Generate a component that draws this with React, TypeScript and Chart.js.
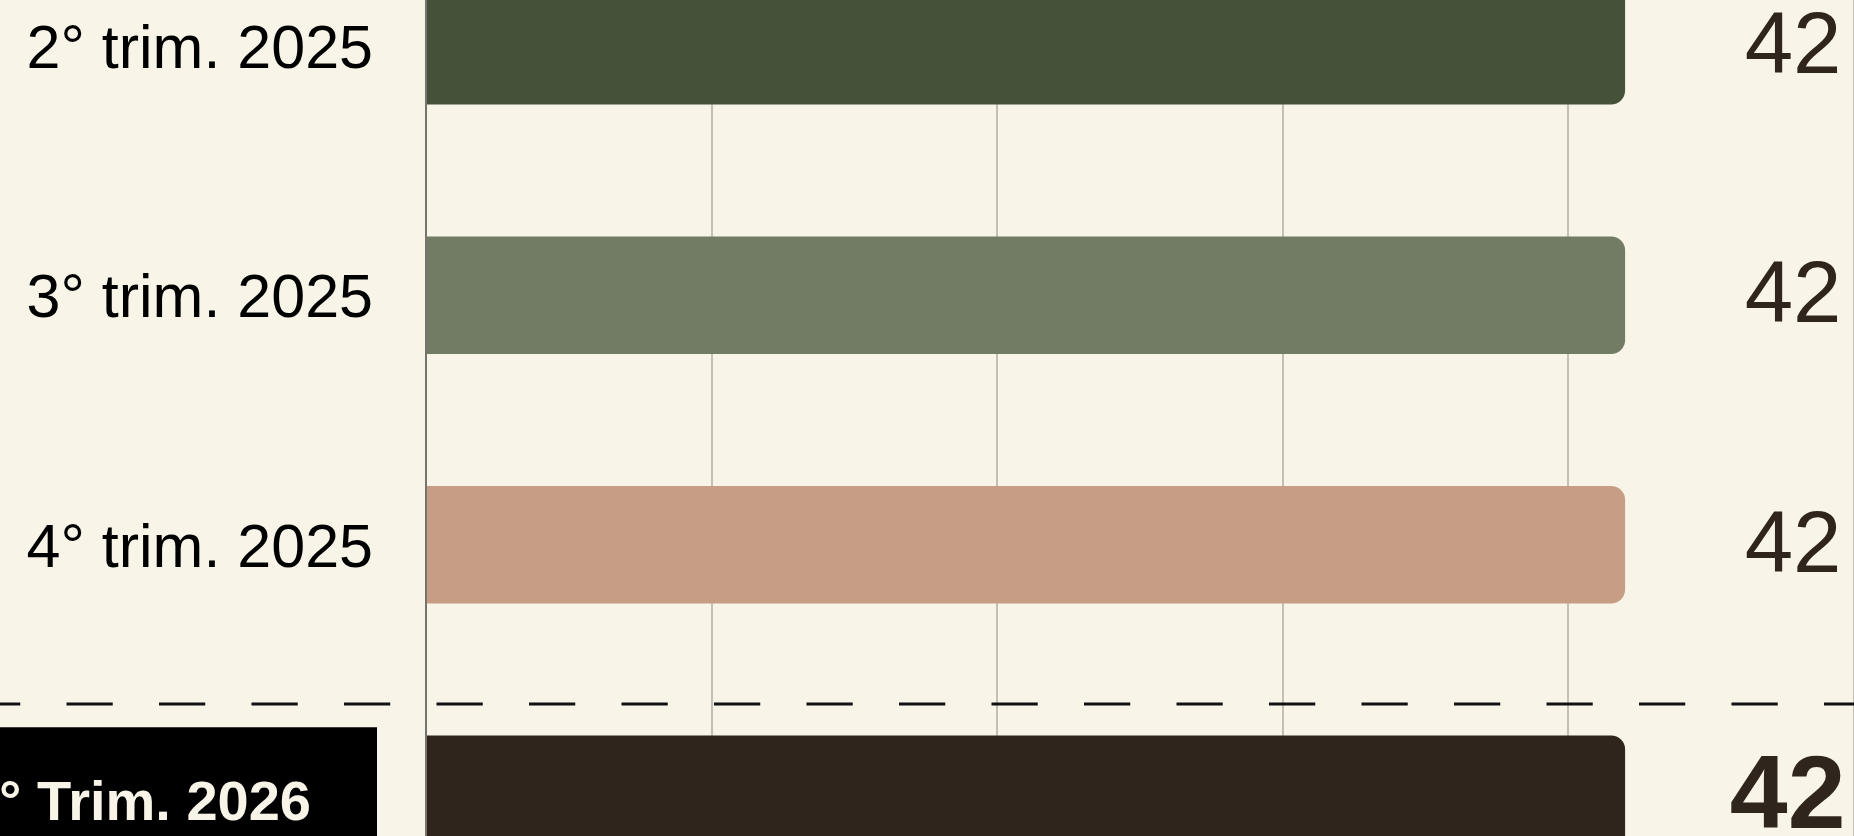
import React, { useEffect, useRef } from "react";
import { Chart, registerables } from "chart.js";

Chart.register(...registerables);

const categories = ["2° trim. 2025", "3° trim. 2025", "4° trim. 2025", "1° Trim. 2026"];
const values = [42, 42, 42, 42];
const barColors = ["#455239", "#727c65", "#c79d86", "#30251d"];
const highlightIndex = 3;
const xMax = 50;
const xStep = 10;

const BG = "#f8f5e8";
const TEXT_DARK = "#30251d";
const FONT = "'Liberation Sans', Arial, sans-serif";

const labelsPlugin = {
  id: "customLabels",
  afterDatasetsDraw(chart: any) {
    const ctx = chart.ctx;
    const area = chart.chartArea;
    const yScale = chart.scales.y;
    ctx.save();

    // dashed separator before highlighted category
    const pHi = yScale.getPixelForValue(highlightIndex);
    const pPrev = yScale.getPixelForValue(highlightIndex - 1);
    const sepY = pHi - 0.362 * (pHi - pPrev);
    ctx.strokeStyle = "#111111";
    ctx.lineWidth = 3;
    ctx.setLineDash([46.25, 46.25]);
    ctx.lineDashOffset = 26;
    ctx.beginPath();
    ctx.moveTo(0, sepY);
    ctx.lineTo(chart.width, sepY);
    ctx.stroke();
    ctx.setLineDash([]);

    categories.forEach((cat, i) => {
      const y = yScale.getPixelForValue(i);
      const isHi = i === highlightIndex;
      ctx.textBaseline = "middle";
      ctx.textAlign = "right";
      if (isHi) {
        ctx.fillStyle = "#000000";
        const boxRight = area.left - 49;
        ctx.fillRect(-120, y - 67, boxRight + 120, 134);
        ctx.fillStyle = BG;
        ctx.font = `bold 56px ${FONT}`;
        ctx.fillText(cat, area.left - 115, y + 10);
      } else {
        ctx.fillStyle = "#000000";
        ctx.font = `61px ${FONT}`;
        ctx.fillText(cat, area.left - 53, y + 5);
      }
      ctx.fillStyle = TEXT_DARK;
      if (isHi) {
        ctx.font = `bold 104px ${FONT}`;
        ctx.fillText(String(values[i]), area.right - 8, y + 5);
      } else {
        ctx.font = `87px ${FONT}`;
        ctx.fillText(String(values[i]), area.right - 12, y + 3);
      }
    });
    ctx.restore();
  },
};

export default function App() {
  const ref = useRef<HTMLCanvasElement | null>(null);

  useEffect(() => {
    document.body.style.margin = "0";
    document.body.style.background = BG;
    const canvas = ref.current!;
    const chart = new Chart(canvas, {
      type: "bar",
      data: {
        labels: categories,
        datasets: [
          {
            data: values,
            backgroundColor: barColors,
            borderRadius: 14,
            borderSkipped: "start",
            categoryPercentage: 1,
            barPercentage: 0.471,
          },
        ],
      },
      options: {
        indexAxis: "y",
        responsive: false,
        animation: false,
        devicePixelRatio: 1,
        layout: { padding: { left: 426, right: 46.5, top: 20, bottom: 22 } },
        plugins: {
          legend: { display: false },
          tooltip: { enabled: false },
          title: { display: false },
        },
        scales: {
          x: {
            min: 0,
            max: xMax,
            ticks: { display: false, stepSize: xStep },
            border: { display: false },
            grid: {
              drawTicks: false,
              lineWidth: 2,
              color: (c: any) => (c.tick && c.tick.value === 0 ? "#75756d" : "#c3bfb3"),
            },
          },
          y: { display: false },
        },
      },
      plugins: [labelsPlugin],
    });
    return () => chart.destroy();
  }, []);

  return (
    <div
      style={{
        position: "fixed",
        left: 0,
        top: 0,
        width: "1854px",
        height: "836px",
        overflow: "hidden",
        background: BG,
      }}
    >
      <div style={{ position: "absolute", left: 0, top: "-99px", width: "1900px", height: "1040px" }}>
        <canvas ref={ref} width={1900} height={1040} style={{ display: "block" }} />
      </div>
    </div>
  );
}
